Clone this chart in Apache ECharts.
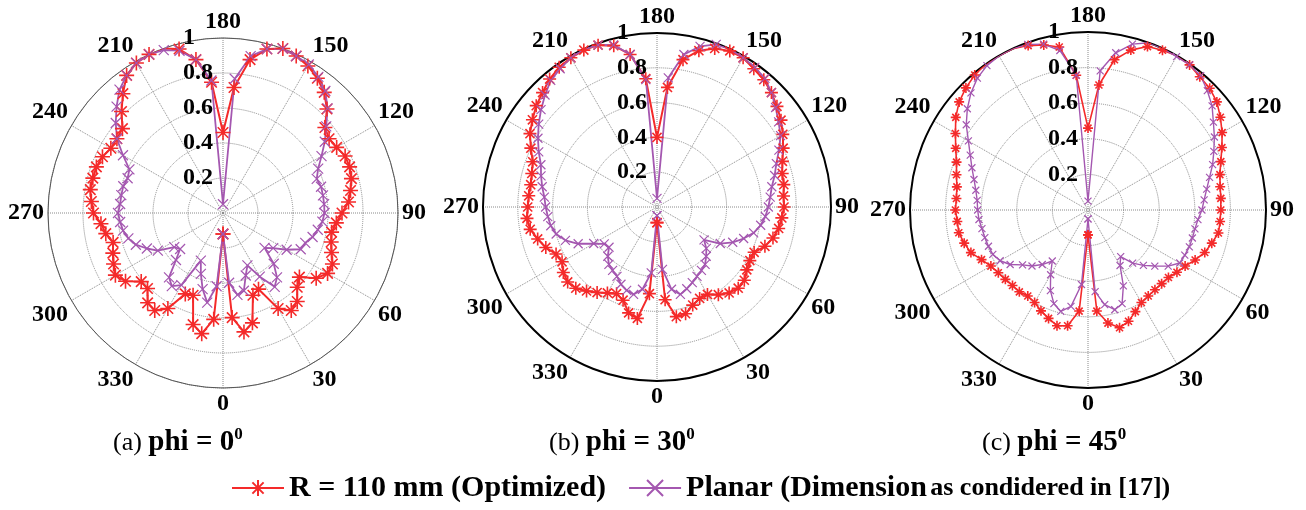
<!DOCTYPE html>
<html>
<head>
<meta charset="utf-8">
<script src="https://cdn.jsdelivr.net/npm/echarts@6/dist/echarts.min.js"></script>
<style>
  html, body { margin: 0; padding: 0; background: #fff; }
  #chart { width: 1306px; height: 510px; }
</style>
</head>
<body>
<div id="chart"></div>
<script>
// angle in degrees, 0 at the bottom, counter-clockwise
const angles = [0, 5, 10, 15, 20, 25, 30, 35, 40, 45, 50, 55, 60, 65, 70, 75, 80, 85, 90,
  95, 100, 105, 110, 115, 120, 125, 130, 135, 140, 145, 150, 155, 160, 165, 170, 175, 180,
  185, 190, 195, 200, 205, 210, 215, 220, 225, 230, 235, 240, 245, 250, 255, 260, 265, 270,
  275, 280, 285, 290, 295, 300, 305, 310, 315, 320, 325, 330, 335, 340, 345, 350, 355, 360];

const angleTicks = [0, 30, 60, 90, 120, 150, 180, 210, 240, 270, 300, 330];
const radiusTicks = [0.2, 0.4, 0.6, 0.8, 1];

const nameR = 'R = 110 mm (Optimized)';
const nameP = 'Planar (Dimension as condidered in [17])';
const titles = ['(a) ', '(b) ', '(c) '];
const phis = ['0', '30', '45'];

// (a) phi = 0
const redA = [0.12, 0.60, 0.69, 0.65, 0.50, 0.48, 0.63, 0.68, 0.66, 0.60, 0.57, 0.65, 0.69, 0.69, 0.66, 0.64, 0.63, 0.65, 0.68,
  0.72, 0.74, 0.76, 0.77, 0.77, 0.75, 0.74, 0.76, 0.84, 0.90, 0.94, 0.97, 0.99, 1.00, 0.97, 0.89, 0.72, 0.46,
  0.75, 0.89, 0.97, 1.00, 1.00, 0.99, 0.96, 0.89, 0.82, 0.75, 0.74, 0.74, 0.76, 0.77, 0.77, 0.77, 0.755, 0.74,
  0.70, 0.68, 0.65, 0.67, 0.69, 0.71, 0.68, 0.61, 0.61, 0.67, 0.68, 0.63, 0.51, 0.50, 0.66, 0.70, 0.61, 0.12];
const purpleA = [0.12, 0.40, 0.475, 0.46, 0.38, 0.33, 0.42, 0.515, 0.48, 0.41, 0.31, 0.35, 0.42, 0.49, 0.50, 0.53, 0.55, 0.57, 0.58,
  0.58, 0.58, 0.58, 0.57, 0.60, 0.65, 0.71, 0.77, 0.845, 0.91, 0.95, 0.98, 0.99, 1.00, 0.97, 0.91, 0.77, 0.05,
  0.76, 0.89, 0.96, 0.99, 1.00, 0.99, 0.96, 0.92, 0.86, 0.80, 0.74, 0.66, 0.59, 0.58, 0.59, 0.59, 0.59, 0.60,
  0.59, 0.58, 0.56, 0.53, 0.48, 0.43, 0.34, 0.32, 0.38, 0.48, 0.51, 0.476, 0.30, 0.37, 0.45, 0.52, 0.42, 0.12];

// (b) phi = 30
const redB = [0.09, 0.535, 0.64, 0.635, 0.60, 0.58, 0.58, 0.615, 0.645, 0.66, 0.655, 0.63, 0.616, 0.616, 0.66, 0.69, 0.71, 0.72, 0.73,
  0.73, 0.74, 0.745, 0.767, 0.80, 0.835, 0.87, 0.90, 0.93, 0.955, 0.97, 0.99, 0.99, 0.97, 0.93, 0.86, 0.69, 0.40,
  0.74, 0.89, 0.96, 0.99, 0.995, 0.99, 0.98, 0.96, 0.93, 0.906, 0.874, 0.843, 0.80, 0.76, 0.745, 0.737, 0.74, 0.743,
  0.75, 0.74, 0.71, 0.68, 0.64, 0.63, 0.657, 0.67, 0.66, 0.63, 0.60, 0.57, 0.55, 0.57, 0.63, 0.65, 0.50, 0.09];
const purpleB = [0.05, 0.36, 0.48, 0.52, 0.50, 0.48, 0.46, 0.445, 0.43, 0.40, 0.37, 0.33, 0.42, 0.48, 0.53, 0.575, 0.605, 0.625, 0.64,
  0.653, 0.67, 0.70, 0.73, 0.773, 0.82, 0.853, 0.89, 0.93, 0.965, 0.98, 0.99, 1.00, 0.995, 0.956, 0.89, 0.745, 0.05,
  0.735, 0.89, 0.965, 0.99, 1.00, 0.99, 0.97, 0.95, 0.91, 0.87, 0.83, 0.79, 0.75, 0.71, 0.69, 0.67, 0.65, 0.64,
  0.63, 0.62, 0.60, 0.56, 0.50, 0.42, 0.37, 0.36, 0.40, 0.43, 0.445, 0.46, 0.49, 0.51, 0.52, 0.48, 0.38, 0.05];

// (c) phi = 45
const redC = [0.14, 0.57, 0.645, 0.685, 0.665, 0.63, 0.60, 0.59, 0.585, 0.585, 0.59, 0.61, 0.63, 0.664, 0.698, 0.72, 0.744, 0.745, 0.746,
  0.749, 0.754, 0.767, 0.794, 0.83, 0.87, 0.908, 0.945, 0.967, 0.977, 0.995, 1.00, 0.99, 0.977, 0.93, 0.857, 0.705, 0.46,
  0.76, 0.93, 0.96, 0.983, 1.00, 1.00, 1.00, 0.99, 0.97, 0.945, 0.907, 0.86, 0.82, 0.786, 0.765, 0.748, 0.742, 0.745,
  0.737, 0.737, 0.72, 0.70, 0.66, 0.63, 0.615, 0.606, 0.60, 0.60, 0.59, 0.60, 0.625, 0.648, 0.673, 0.66, 0.57, 0.14];
const purpleC = [0.05, 0.46, 0.54, 0.58, 0.56, 0.47, 0.36, 0.32, 0.39, 0.44, 0.49, 0.55, 0.595, 0.60, 0.606, 0.607, 0.61, 0.62, 0.64,
  0.655, 0.677, 0.707, 0.745, 0.78, 0.82, 0.86, 0.91, 0.948, 0.985, 0.995, 0.995, 1.00, 1.00, 0.965, 0.897, 0.785, 0.05,
  0.76, 0.91, 0.965, 0.99, 1.00, 1.00, 0.99, 0.967, 0.93, 0.885, 0.835, 0.776, 0.73, 0.694, 0.663, 0.64, 0.625, 0.62,
  0.615, 0.605, 0.60, 0.595, 0.59, 0.57, 0.534, 0.48, 0.445, 0.40, 0.35, 0.42, 0.50, 0.56, 0.59, 0.55, 0.42, 0.05];

const FONT = '"Liberation Serif", "Times New Roman", serif';
const RED = '#f42a2a';
const PURPLE = '#a457b0';
const STAR = 'path://M10,0L10,20M0,10L20,10M3,3L17,17M3,17L17,3';
const CROSS = 'path://M0,0L20,20M0,20L20,0';

// layout of the three sub plots
const plots = [
  { center: [223, 213], radius: 175, red: redA, purple: purpleA, star: 15, cross: 10, axisW: 1, axisC: '#555', titleLeft: 108 },
  { center: [657, 207], radius: 174, red: redB, purple: purpleB, star: 13, cross: 9, axisW: 2, axisC: '#000', titleLeft: 544 },
  { center: [1088, 210], radius: 178, red: redC, purple: purpleC, star: 10, cross: 7, axisW: 2, axisC: '#000', titleLeft: 977 }
];

const polar = [], angleAxis = [], radiusAxis = [], series = [], title = [];

plots.forEach(function (p, k) {
  const main = 2 * k, lab = 2 * k + 1;
  polar.push({ center: p.center, radius: p.radius });
  polar.push({ center: p.center, radius: p.radius });

  angleAxis.push({
    polarIndex: main,
    type: 'value',
    min: 0,
    max: 360,
    interval: 30,
    startAngle: 270,
    clockwise: false,
    axisLine: { lineStyle: { color: p.axisC, width: p.axisW } },
    axisTick: { show: false },
    axisLabel: {
      margin: 4,
      align: 'center',
      verticalAlign: 'middle',
      color: '#000',
      fontFamily: FONT,
      fontWeight: 'bold',
      fontSize: 24,
      formatter: function (v) { return angleTicks.indexOf(v) >= 0 ? String(v) : ''; }
    },
    splitLine: { show: true, lineStyle: { color: '#8a8a8a', type: 'dotted', width: 1 } }
  });
  angleAxis.push({ polarIndex: lab, type: 'value', min: 0, max: 360, startAngle: 90, show: false });

  radiusAxis.push({
    polarIndex: main,
    type: 'value',
    min: 0,
    max: 1,
    interval: 0.2,
    axisLine: { show: false },
    axisTick: { show: false },
    axisLabel: { show: false },
    splitLine: { show: true, lineStyle: { color: '#8a8a8a', type: 'dotted', width: 1 } }
  });
  radiusAxis.push({
    polarIndex: lab,
    type: 'value',
    min: 0,
    max: 1,
    interval: 0.2,
    z: 10,
    axisLine: { show: false },
    axisTick: { show: false },
    splitLine: { show: false },
    axisLabel: {
      margin: 40,
      align: 'left',
      verticalAlign: 'middle',
      color: '#000',
      fontFamily: FONT,
      fontWeight: 'bold',
      fontSize: 24,
      formatter: function (v) {
        const t = radiusTicks.find(function (r) { return Math.abs(r - v) < 1e-6; });
        return t === undefined ? '' : String(t);
      }
    }
  });

  series.push({
    name: nameR,
    type: 'line',
    coordinateSystem: 'polar',
    polarIndex: main,
    symbol: STAR,
    symbolSize: p.star,
    lineStyle: { color: RED, width: k === 2 ? 1.6 : 2 },
    itemStyle: { color: RED, borderColor: RED, borderWidth: 1.6 },
    data: angles.map(function (a, i) { return [p.red[i], a]; })
  });
  series.push({
    name: nameP,
    type: 'line',
    coordinateSystem: 'polar',
    polarIndex: main,
    symbol: CROSS,
    symbolSize: p.cross,
    lineStyle: { color: PURPLE, width: k === 2 ? 1.4 : 1.8 },
    itemStyle: { color: PURPLE, borderColor: PURPLE, borderWidth: 1.2 },
    data: angles.map(function (a, i) { return [p.purple[i], a]; })
  });

  title.push({
    text: '{n|' + titles[k] + '}{b|phi = ' + phis[k] + '}{s|0}',
    left: p.titleLeft,
    top: 421,
    textStyle: {
      rich: {
        n: { fontFamily: FONT, fontSize: 26, fontWeight: 'normal', color: '#000', lineHeight: 34 },
        b: { fontFamily: FONT, fontSize: 29, fontWeight: 'bold', color: '#000', lineHeight: 34 },
        s: { fontFamily: FONT, fontSize: 17, fontWeight: 'bold', color: '#000', lineHeight: 20, verticalAlign: 'top' }
      }
    }
  });
});

const legendRich = {
  a: { fontFamily: FONT, fontSize: 30, fontWeight: 'bold', color: '#000' },
  b: { fontFamily: FONT, fontSize: 26, fontWeight: 'bold', color: '#000' }
};

const chart = echarts.init(document.getElementById('chart'), null, { renderer: 'canvas' });
chart.setOption({
  animation: false,
  backgroundColor: '#fff',
  title: title,
  legend: {
    left: 226,
    top: 468,
    itemWidth: 52,
    itemHeight: 20,
    itemGap: 22,
    data: [nameR, nameP],
    textStyle: { rich: legendRich },
    formatter: function (name) {
      if (name === nameP) return '{a|Planar (Dimension} {b|as condidered in [17])}';
      return '{a|' + name + '}';
    }
  },
  polar: polar,
  angleAxis: angleAxis,
  radiusAxis: radiusAxis,
  series: series
});
</script>
</body>
</html>
